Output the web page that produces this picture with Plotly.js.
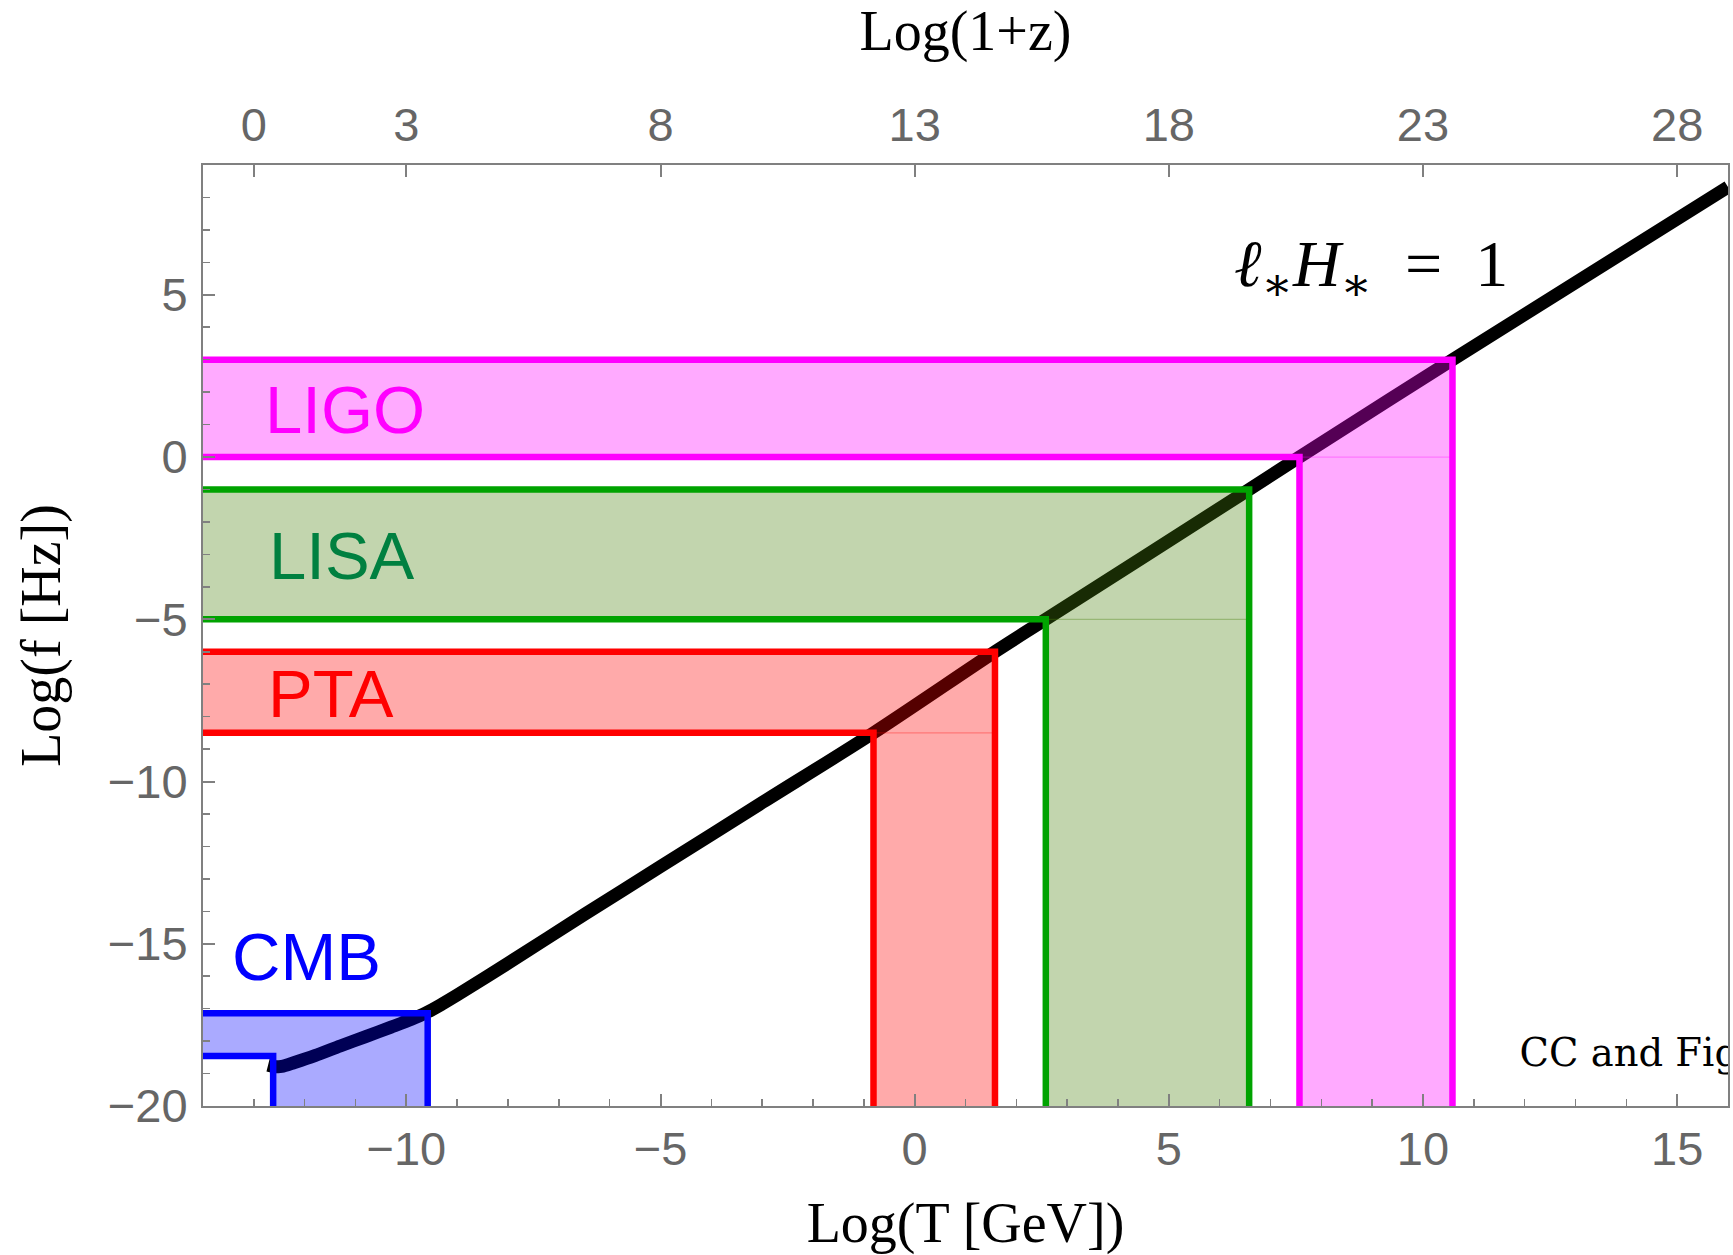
<!DOCTYPE html>
<html>
<head>
<meta charset="utf-8">
<script src="https://cdn.plot.ly/plotly-3.0.1.min.js"></script>
<style>
  html, body { margin: 0; padding: 0; background: #ffffff; }
  #chart { width: 1733px; height: 1255px; }
</style>
</head>
<body>
<div id="chart"></div>
<script>
// Curve l*H* = 1 : log10(T / GeV) against log10(f / Hz) today
const logT = [-12.72, -12.6, -12.45, -12.2, -11.8, -11.3, -10.8, -10.3, -9.9, -9.6,
              -9.3, -9.0, -8.0, -6.5, -5.0, -3.0, -0.81, 1.58, 2.58, 6.58, 7.57, 10.58, 16.0];
const logF = [-18.74, -18.78, -18.78, -18.66, -18.45, -18.15, -17.86, -17.57, -17.33, -17.12,
              -16.86, -16.58, -15.6, -14.1, -12.62, -10.65, -8.5, -6.0, -5.0, -1.0, 0.0, 3.0, 8.32];

// Detector bands: frequency window [fLow, fHigh] and the matching temperature window [tLow, tHigh]
const bandNames = ['CMB', 'PTA', 'LISA', 'LIGO'];
const bandFLow  = [-18.46, -8.5, -5.0, 0.0];
const bandFHigh = [-17.14, -6.0, -1.0, 3.0];
const bandTLow  = [-12.62, -0.81, 2.58, 7.57];
const bandTHigh = [-9.58, 1.58, 6.58, 10.58];

// Axis ticks
const tTicks = [-10, -5, 0, 5, 10, 15];
const fTicks = [-20, -15, -10, -5, 0, 5];
const zTicks = [0, 3, 8, 13, 18, 23, 28];
const zOffset = 13;           // Log(1+z) = Log(T) + 13 on the top scale

// Plot window
const tRange = [-14, 16];
const fRange = [-20, 9];

// Styles for each band
const bandStyle = {
  CMB:  { line: '#0000ff', fill: 'rgba(0,0,255,0.333)',   seam: null,                    text: '#0000ff' },
  PTA:  { line: '#ff0000', fill: 'rgba(255,0,0,0.333)',   seam: 'rgba(255,0,0,0.3)',     text: '#ff0000' },
  LISA: { line: '#00a300', fill: 'rgba(72,129,12,0.333)', seam: 'rgba(72,129,12,0.35)',  text: '#008040' },
  LIGO: { line: '#ff00ff', fill: 'rgba(255,0,255,0.333)', seam: 'rgba(255,0,255,0.3)',   text: '#ff00ff' }
};
// Label anchors (data coordinates, left edge / vertical middle)
const labelAnchor = {
  CMB:  [-13.47, -15.38],
  PTA:  [-12.77, -7.28],
  LISA: [-12.74, -3.03],
  LIGO: [-12.82, 1.45]
};

const traces = [];

// the l*H* = 1 line, drawn first so the tinted bands sit over it
traces.push({
  x: logT, y: logF, type: 'scatter', mode: 'lines',
  line: { color: '#000000', width: 13, shape: 'spline', smoothing: 0.8 },
  hoverinfo: 'skip'
});

const left = tRange[0], bottom = fRange[0];

bandNames.forEach((name, i) => {
  const s = bandStyle[name];
  const lo = bandFLow[i], hi = bandFHigh[i], tl = bandTLow[i], th = bandTHigh[i];
  // L-shaped filled region
  traces.push({
    x: [left, tl, tl, th, th, left, left],
    y: [lo, lo, bottom, bottom, hi, hi, lo],
    type: 'scatter', mode: 'lines', fill: 'toself',
    fillcolor: s.fill, line: { width: 0, color: 'rgba(0,0,0,0)' },
    hoverinfo: 'skip'
  });
  // faint seam where the horizontal and vertical strips meet
  if (s.seam) {
    traces.push({
      x: [tl, th], y: [lo, lo], type: 'scatter', mode: 'lines',
      line: { color: s.seam, width: 1.2 }, hoverinfo: 'skip'
    });
  }
});

bandNames.forEach((name, i) => {
  const s = bandStyle[name];
  const lo = bandFLow[i], hi = bandFHigh[i], tl = bandTLow[i], th = bandTHigh[i];
  // inner edge
  traces.push({
    x: [left, tl, tl], y: [lo, lo, bottom], type: 'scatter', mode: 'lines',
    line: { color: s.line, width: 6.5 }, hoverinfo: 'skip'
  });
  // outer edge
  traces.push({
    x: [left, th, th], y: [hi, hi, bottom], type: 'scatter', mode: 'lines',
    line: { color: s.line, width: 6.5 }, hoverinfo: 'skip'
  });
});

// credit text in the lower right corner, clipped by the frame
traces.push({
  x: [11.9], y: [-18.48], type: 'scatter', mode: 'text',
  text: ['CC and Fig'], textposition: 'middle right',
  textfont: { family: 'DejaVu Serif, Liberation Serif, serif', size: 38.5, color: '#000000' },
  cliponaxis: true, hoverinfo: 'skip'
});

// carrier trace for the top Log(1+z) scale
traces.push({
  x: zTicks, y: zTicks.map(() => null), xaxis: 'x2', yaxis: 'y',
  type: 'scatter', mode: 'lines', hoverinfo: 'skip', showlegend: false
});

const frameColor = '#808080';
const tickFont = { family: 'Liberation Sans, Arial, sans-serif', size: 47, color: '#666666' };
const titleFont = { family: 'Liberation Serif, Times New Roman, serif', size: 56, color: '#000000' };

const annotations = bandNames.map(name => ({
  x: labelAnchor[name][0], y: labelAnchor[name][1], xref: 'x', yref: 'y',
  text: name, showarrow: false, xanchor: 'left', yanchor: 'middle',
  font: { family: 'Liberation Sans, Arial, sans-serif', size: 67, color: bandStyle[name].text }
}));
annotations.push({
  x: 8.98, y: 5.8, xref: 'x', yref: 'y', showarrow: false,
  xanchor: 'center', yanchor: 'middle',
  text: '<i>ℓ</i><sub>∗</sub><i>H</i><sub>∗</sub>\u00a0\u00a0=\u00a0\u00a01',
  font: { family: 'Liberation Serif, DejaVu Serif, serif', size: 66, color: '#000000' }
});

const layout = {
  width: 1733, height: 1255,
  margin: { l: 203, r: 5, t: 165, b: 149, pad: 0 },
  paper_bgcolor: '#ffffff', plot_bgcolor: '#ffffff',
  showlegend: false,
  xaxis: {
    range: tRange, tickvals: tTicks, ticks: 'inside', ticklen: 12, tickwidth: 2,
    tickcolor: frameColor, tickfont: tickFont, ticklabelstandoff: 1,
    minor: { dtick: 1, tick0: 0, ticks: 'inside', ticklen: 7, tickwidth: 1.6, tickcolor: frameColor, showgrid: false },
    showline: true, linecolor: frameColor, linewidth: 2, mirror: true,
    showgrid: false, zeroline: false,
    title: { text: 'Log(T [GeV])', font: titleFont, standoff: 41 }
  },
  xaxis2: {
    overlaying: 'x', side: 'top', anchor: 'y',
    range: tRange.map(v => v + zOffset), tickvals: zTicks,
    ticks: 'inside', ticklen: 12, tickwidth: 2, tickcolor: frameColor,
    tickfont: tickFont, ticklabelstandoff: 3,
    showline: true, linecolor: frameColor, linewidth: 2,
    showgrid: false, zeroline: false,
    title: { text: 'Log(1+z)', font: titleFont, standoff: 35 }
  },
  yaxis: {
    range: fRange, tickvals: fTicks, ticks: 'inside', ticklen: 12, tickwidth: 2,
    tickcolor: frameColor, tickfont: tickFont, ticklabelstandoff: 4,
    minor: { dtick: 1, tick0: 0, ticks: 'inside', ticklen: 7, tickwidth: 1.6, tickcolor: frameColor, showgrid: false },
    showline: true, linecolor: frameColor, linewidth: 2, mirror: true,
    showgrid: false, zeroline: false,
    title: { text: 'Log(f [Hz])', font: titleFont, standoff: 29 }
  },
  annotations: annotations
};

Plotly.newPlot('chart', traces, layout, { displayModeBar: false, staticPlot: true });
</script>
</body>
</html>
